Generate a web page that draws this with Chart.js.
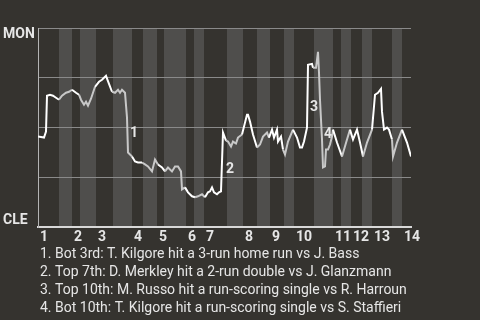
<!DOCTYPE html>
<html lang="en">
<head>
<meta charset="UTF-8">
<title>MON @ CLE win probability</title>
<script src="https://cdn.jsdelivr.net/npm/chart.js"></script>
<style>
    body { margin: 0; background: #35332f; }
    canvas { display: block; }
</style>
</head>
<body>
<canvas id="wpChart" width="480" height="320"></canvas>
<script>
// game progress (x) and MON win probability in % (y), one entry per play
const progress = [0, 6, 8, 9, 12, 15, 18, 21, 24, 28, 31, 34, 38, 41, 43, 46, 48, 50, 53, 57,
    61, 64, 68, 71, 74, 77, 80, 82, 84, 87, 89, 90, 94, 97, 100, 104, 107, 110, 114, 117,
    120, 124, 127, 130, 134, 137, 140, 143, 144, 147, 150, 154, 157, 160, 164, 167, 170, 172, 174, 176,
    179, 181, 183, 185, 188, 190, 193, 195, 198, 200, 204, 207, 209, 210, 212, 215, 219, 222, 225, 229,
    231, 234, 236, 239, 240, 243, 245, 247, 250, 255, 259, 262, 264, 266, 269, 270, 274, 275, 278, 279,
    280, 281, 282, 284, 285, 287, 288, 290, 292, 294, 295, 299, 304, 309, 312, 315, 319, 322, 325, 329,
    334, 337, 340, 343, 344, 346, 349, 351, 354, 355, 359, 364, 369, 373];
const winPct = [45.5, 45, 48, 66, 66.5, 66, 65, 64, 66, 67.5, 68, 69, 67.5, 66.5, 64, 61.5, 63, 61, 64.5, 70.5,
    73, 74, 76, 72, 68, 67.5, 69, 67.5, 69, 67.5, 55, 37.5, 35.5, 33, 32.5, 32.5, 31.5, 30.5, 28, 34,
    31.5, 30, 28, 30, 28, 30.5, 30.5, 28, 19, 20, 17.5, 15.5, 15, 15.5, 16.5, 15, 17.5, 18, 20, 17.5,
    16.5, 17.5, 18, 47.5, 43.5, 43, 40.5, 43, 42, 45, 46.5, 52.5, 56.5, 56.5, 53, 46.5, 40, 41.5, 45.5, 47.5,
    45, 49, 45, 49, 43, 45.5, 39, 36.5, 43, 49, 45, 40, 40, 43, 50, 81.5, 82, 80, 80, 84,
    88, 77.5, 64, 44, 30, 30.5, 39, 39, 41.5, 45.5, 49, 42.5, 35.5, 44, 49, 44, 49, 42.5, 35.5, 42.5,
    49, 66.5, 67.5, 69.5, 58, 49, 50, 49, 44, 35.5, 42.5, 49, 42.5, 35.5];

// start of each half-inning (top 1, bottom 1, top 2, ...) on the progress scale
const halfStarts = [0, 21, 34, 42, 58, 75, 94, 105, 119, 126, 148, 156, 166, 189, 205, 219,
    232, 246, 256, 276, 295, 303, 313, 324, 334, 354, 364];
const gameEnd = 373;
const inningLabels = ['1', '2', '3', '4', '5', '6', '7', '8', '9', '10', '11', '12', '13', '14'];
const teams = ['CLE', 'MON'];  // bottom of axis, top of axis

// key plays, and where their numbers sit on the chart
const notes = [
    'Bot 3rd: T. Kilgore hit a 3-run home run vs J. Bass',
    'Top 7th: D. Merkley hit a 2-run double vs J. Glanzmann',
    'Top 10th: M. Russo hit a run-scoring single vs R. Harroun',
    'Bot 10th: T. Kilgore hit a run-scoring single vs S. Staffieri'
];
const noteX = [92, 188, 272, 286];
const noteY = [45.5, 27, 58.5, 45];

const BG = '#35332f';
const BAND = '#4f4e4c';
const TEXT = '#e6e6e6';

function isBottomHalf(x) {
    let idx = 0;
    for (let i = 0; i < halfStarts.length; i++) {
        if (x >= halfStarts[i]) idx = i;
    }
    return idx % 2 === 1;
}

const decor = {
    id: 'decor',
    beforeDraw(chart) {
        const { ctx, chartArea: a, scales: { x } } = chart;
        ctx.save();
        ctx.fillStyle = BG;
        ctx.fillRect(0, 0, chart.width, chart.height);
        ctx.fillStyle = BAND;
        for (let i = 1; i < halfStarts.length; i += 2) {
            const x0 = x.getPixelForValue(halfStarts[i]);
            const x1 = x.getPixelForValue(i + 1 < halfStarts.length ? halfStarts[i + 1] : gameEnd);
            ctx.fillRect(x0, a.top, x1 - x0, a.bottom - a.top);
        }
        ctx.restore();
    },
    afterDraw(chart) {
        const { ctx, scales: { x, y } } = chart;
        ctx.save();
        ctx.fillStyle = TEXT;
        ctx.textAlign = 'left';
        ctx.textBaseline = 'alphabetic';
        ctx.font = 'bold 14px Roboto';
        ctx.fillText(teams[1], 3, y.getPixelForValue(100) + 10);
        ctx.fillText(teams[0], 3, y.getPixelForValue(0) - 3);

        // numbers next to the key plays
        notes.forEach((n, i) => {
            ctx.fillText(String(i + 1), x.getPixelForValue(noteX[i]), y.getPixelForValue(noteY[i]));
        });

        // the list underneath
        ctx.font = '14px Roboto';
        notes.forEach((n, i) => {
            ctx.fillText((i + 1) + '. ' + n, 40, 258 + i * 18);
        });
        ctx.restore();
    }
};

Chart.defaults.font.family = 'Roboto';

new Chart(document.getElementById('wpChart'), {
    type: 'line',
    data: {
        datasets: [{
            data: progress.map((p, i) => ({ x: p, y: winPct[i] })),
            borderColor: '#ffffff',
            borderWidth: 2,
            pointRadius: 0,
            tension: 0,
            segment: {
                borderColor: ctx => isBottomHalf((ctx.p0.parsed.x + ctx.p1.parsed.x) / 2) ? '#c8c8c8' : '#ffffff'
            }
        }]
    },
    options: {
        responsive: false,
        animation: false,
        layout: { padding: { left: 38, top: 28, right: 69, bottom: 72 } },
        plugins: { legend: { display: false }, tooltip: { enabled: false } },
        scales: {
            x: {
                type: 'linear',
                min: 0,
                max: gameEnd,
                grid: { display: false, drawTicks: false },
                border: { display: true, color: '#d8d8d8', width: 2 },
                afterBuildTicks: axis => {
                    axis.ticks = halfStarts.filter((_, i) => i % 2 === 0).map(v => ({ value: v }));
                },
                ticks: {
                    autoSkip: false,
                    maxRotation: 0,
                    align: 'start',
                    labelOffset: 2,
                    padding: 2,
                    color: TEXT,
                    font: { size: 14, weight: 'bold' },
                    callback: (value, index) => inningLabels[index]
                }
            },
            y: {
                min: 0,
                max: 100,
                grid: { color: '#8a8a8a', lineWidth: 1, drawTicks: false },
                border: { display: true, color: '#b4b4b4', width: 1 },
                ticks: { display: false, stepSize: 25 }
            }
        }
    },
    plugins: [decor]
});
</script>
</body>
</html>
